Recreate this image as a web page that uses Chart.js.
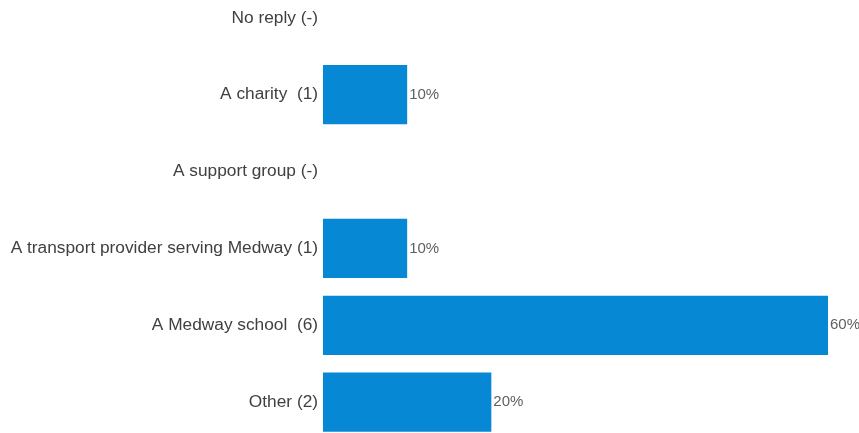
<!DOCTYPE html>
<html lang="en">
<head>
<meta charset="utf-8" />
<title>Survey replies</title>
<script src="https://cdn.jsdelivr.net/npm/chart.js"></script>
<style>
  html, body { margin: 0; padding: 0; background: #fff; overflow: hidden; }
  #wrap { position: absolute; left: 0; top: -36px; width: 859px; height: 492px; }
</style>
</head>
<body>
<div id="wrap"><canvas id="replyChart"></canvas></div>
<script>
// categories + percentages
const categories = [
    'No reply (-)',
    'A charity  (1)',
    'A support group (-)',
    'A transport provider serving Medway (1)',
    'A Medway school  (6)',
    'Other (2)'
];
const percents = [0, 10, 0, 10, 60, 20];
const axisMax = 60;

// draws "10%" etc just past the end of each bar
const barValueLabels = {
    id: 'barValueLabels',
    afterDatasetsDraw(chart) {
        const ctx = chart.ctx;
        const meta = chart.getDatasetMeta(0);
        ctx.save();
        ctx.font = '15px "Liberation Sans", Arial, sans-serif';
        ctx.fillStyle = '#5f5f5f';
        ctx.textAlign = 'left';
        ctx.textBaseline = 'middle';
        meta.data.forEach((bar, i) => {
            if (!percents[i]) return;
            ctx.fillText(percents[i] + '%', bar.x + 2, bar.y);
        });
        ctx.restore();
    }
};

const ctx = document.getElementById('replyChart').getContext('2d');
new Chart(ctx, {
    type: 'bar',
    data: {
        labels: categories,
        datasets: [{
            data: percents,
            backgroundColor: '#0788d4',
            borderWidth: 0,
            barPercentage: 0.77,
            categoryPercentage: 1
        }]
    },
    options: {
        indexAxis: 'y',
        responsive: true,
        maintainAspectRatio: false,
        animation: false,
        layout: { padding: { left: 0, right: 31, top: 0, bottom: 0 } },
        plugins: { legend: { display: false }, tooltip: { enabled: false } },
        scales: {
            x: {
                min: 0, max: axisMax,
                display: false
            },
            y: {
                grid: { display: false, drawTicks: false },
                border: { display: false },
                ticks: {
                    padding: 5,
                    color: '#404040',
                    font: { family: '"Liberation Sans", Arial, sans-serif', size: 17.3 }
                },
                afterFit(scale) { scale.width = 323; }
            }
        }
    },
    plugins: [barValueLabels]
});
</script>
</body>
</html>
